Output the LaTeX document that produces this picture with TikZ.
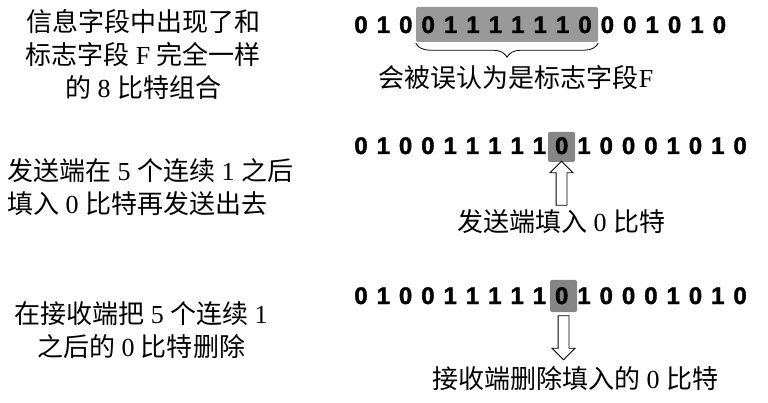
\documentclass[tikz,border=0pt]{standalone}
\usepackage{fontspec}
\setmainfont{Liberation Serif}
\newfontfamily\cjk{Noto Sans CJK SC}
\newfontfamily\bitfont{Liberation Sans Bold}[FakeBold=1.6]
\usetikzlibrary{positioning,shapes.arrows,decorations.pathreplacing}

\begin{document}
\begin{tikzpicture}
  [x=1pt,y=-1pt,
  every node/.style={inner sep=0pt},
  bit/.style={font=\bitfont\fontsize{24}{24}\selectfont,anchor=base},
  note/.style={font=\fontsize{26}{33}\selectfont},
  hl/.style={fill=black!40,rounded corners=2pt},
  hollow/.style={single arrow,draw=black,fill=white,line width=0.9pt,
    inner ysep=5pt,minimum width=22pt,minimum height=44pt,
    single arrow head extend=6pt,single arrow head indent=0pt}]
  \useasboundingbox (0,0) rectangle (768,403);

  % shaded bits
  \node[hl,minimum width=182pt,minimum height=35pt] (f1) at (507,24.5) {};
  \node[hl,fill=black!48,minimum width=27pt,minimum height=30pt] (f2) at (561.5,147) {};
  \node[hl,fill=black!48,minimum width=27pt,minimum height=32pt] (f3) at (563.5,296) {};

  % bit strings
  \foreach \b [count=\i from 0] in {0,1,0,0,1,1,1,1,1,1,0,0,0,1,0,1,0}
    \node[bit] (a\i) at (361+22.4*\i,33) {\b};
  \foreach \b [count=\i from 0] in {0,1,0,0,1,1,1,1,1,0,1,0,0,0,1,0,1,0}
    \node[bit] (b\i) at (361+22.3*\i,154) {\b};
  \foreach \b [count=\i from 0] in {0,1,0,0,1,1,1,1,1,0,1,0,0,0,1,0,1,0}
    \node[bit] (c\i) at (361+22.3*\i,304) {\b};

  % right side
  \draw[decorate,decoration={brace,mirror,amplitude=14pt},line width=0.8pt]
    ([yshift=-1pt]f1.south west) -- ([yshift=-1pt]f1.south east);
  \node[note] (t1) at (516,78) {{\cjk 会被误认为是标志字段}F};
  \node[hollow,rotate=90] (u2) at (561.5,186) {};
  \node[note] (t2) at (561,222) {{\cjk 发送端填入} 0 {\cjk 比特}};
  \node[hollow,rotate=-90] (u3) at (563.5,335) {};
  \node[note] (t3) at (575,379) {{\cjk 接收端删除填入的} 0 {\cjk 比特}};

  % left side
  \node[note,align=center] (l1) at (143,54)
    {{\cjk 信息字段中出现了和}\\{\cjk 标志字段} F {\cjk 完全一样}\\{\cjk 的} 8 {\cjk 比特组合}};
  \node[note,align=left,anchor=west] (l2) at (7,187)
    {{\cjk 发送端在} 5 {\cjk 个连续} 1 {\cjk 之后}\\{\cjk 填入} 0 {\cjk 比特再发送出去}};
  \node[note,align=center] (l3) at (141,330)
    {{\cjk 在接收端把} 5 {\cjk 个连续} 1\\{\cjk 之后的} 0 {\cjk 比特删除}};
\end{tikzpicture}
\end{document}
